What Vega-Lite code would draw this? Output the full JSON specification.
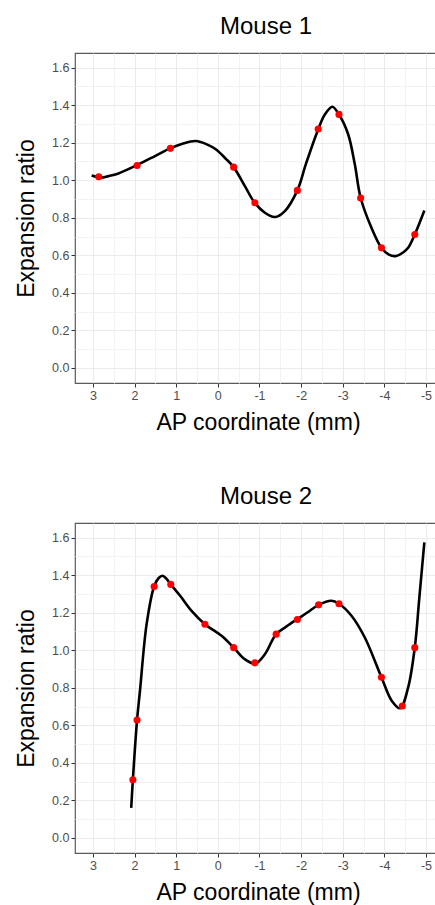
{
  "$schema": "https://vega.github.io/schema/vega-lite/v6.json",
  "background": "white",
  "padding": {"left": 15, "top": 14, "right": 0, "bottom": 0},
  "spacing": 48,
  "config": {
    "font": "Liberation Sans",
    "view": {"stroke": "#5a5a5a", "strokeWidth": 1.2},
    "axis": {
      "domain": false,
      "labelFont": "Liberation Sans",
      "labelFontSize": 12.5,
      "labelColor": "#4d4d4d",
      "labelOverlap": false,
      "labelPadding": 2,
      "tickSize": 4,
      "tickColor": "#333333",
      "titleFont": "Liberation Sans",
      "titleFontSize": 23,
      "titleFontWeight": "normal",
      "titleColor": "#000000"
    },
    "title": {"font": "Liberation Sans", "fontSize": 24, "fontWeight": "normal", "color": "#000000", "anchor": "middle", "baseline": "alphabetic", "offset": 14, "dx": 8}
  },
  "datasets": {
    "points": [
      {"mouse": "Mouse 1", "ap": 2.86, "ratio": 1.019},
      {"mouse": "Mouse 1", "ap": 1.94, "ratio": 1.079},
      {"mouse": "Mouse 1", "ap": 1.14, "ratio": 1.170},
      {"mouse": "Mouse 1", "ap": -0.38, "ratio": 1.070},
      {"mouse": "Mouse 1", "ap": -0.89, "ratio": 0.880},
      {"mouse": "Mouse 1", "ap": -1.91, "ratio": 0.946},
      {"mouse": "Mouse 1", "ap": -2.41, "ratio": 1.273},
      {"mouse": "Mouse 1", "ap": -2.91, "ratio": 1.351},
      {"mouse": "Mouse 1", "ap": -3.43, "ratio": 0.905},
      {"mouse": "Mouse 1", "ap": -3.93, "ratio": 0.640},
      {"mouse": "Mouse 1", "ap": -4.73, "ratio": 0.711},
      {"mouse": "Mouse 2", "ap": 2.04, "ratio": 0.310},
      {"mouse": "Mouse 2", "ap": 1.94, "ratio": 0.628},
      {"mouse": "Mouse 2", "ap": 1.53, "ratio": 1.340},
      {"mouse": "Mouse 2", "ap": 1.13, "ratio": 1.351},
      {"mouse": "Mouse 2", "ap": 0.31, "ratio": 1.139},
      {"mouse": "Mouse 2", "ap": -0.38, "ratio": 1.014},
      {"mouse": "Mouse 2", "ap": -0.89, "ratio": 0.933},
      {"mouse": "Mouse 2", "ap": -1.40, "ratio": 1.086},
      {"mouse": "Mouse 2", "ap": -1.91, "ratio": 1.164},
      {"mouse": "Mouse 2", "ap": -2.42, "ratio": 1.242},
      {"mouse": "Mouse 2", "ap": -2.91, "ratio": 1.248},
      {"mouse": "Mouse 2", "ap": -3.93, "ratio": 0.856},
      {"mouse": "Mouse 2", "ap": -4.43, "ratio": 0.703},
      {"mouse": "Mouse 2", "ap": -4.73, "ratio": 1.014}
    ],
    "curve": [
      {"mouse": "Mouse 1", "ap": 3.03, "ratio": 1.026},
      {"mouse": "Mouse 1", "ap": 2.80, "ratio": 1.015},
      {"mouse": "Mouse 1", "ap": 2.63, "ratio": 1.022},
      {"mouse": "Mouse 1", "ap": 2.40, "ratio": 1.035},
      {"mouse": "Mouse 1", "ap": 1.95, "ratio": 1.080},
      {"mouse": "Mouse 1", "ap": 1.51, "ratio": 1.129},
      {"mouse": "Mouse 1", "ap": 1.15, "ratio": 1.170},
      {"mouse": "Mouse 1", "ap": 0.85, "ratio": 1.195},
      {"mouse": "Mouse 1", "ap": 0.53, "ratio": 1.209},
      {"mouse": "Mouse 1", "ap": 0.25, "ratio": 1.190},
      {"mouse": "Mouse 1", "ap": 0.05, "ratio": 1.165},
      {"mouse": "Mouse 1", "ap": -0.20, "ratio": 1.113},
      {"mouse": "Mouse 1", "ap": -0.38, "ratio": 1.070},
      {"mouse": "Mouse 1", "ap": -0.65, "ratio": 0.969},
      {"mouse": "Mouse 1", "ap": -0.88, "ratio": 0.882},
      {"mouse": "Mouse 1", "ap": -1.13, "ratio": 0.827},
      {"mouse": "Mouse 1", "ap": -1.37, "ratio": 0.804},
      {"mouse": "Mouse 1", "ap": -1.61, "ratio": 0.836},
      {"mouse": "Mouse 1", "ap": -1.91, "ratio": 0.946},
      {"mouse": "Mouse 1", "ap": -2.12, "ratio": 1.090},
      {"mouse": "Mouse 1", "ap": -2.41, "ratio": 1.271},
      {"mouse": "Mouse 1", "ap": -2.57, "ratio": 1.350},
      {"mouse": "Mouse 1", "ap": -2.75, "ratio": 1.392},
      {"mouse": "Mouse 1", "ap": -2.91, "ratio": 1.350},
      {"mouse": "Mouse 1", "ap": -3.13, "ratio": 1.245},
      {"mouse": "Mouse 1", "ap": -3.29, "ratio": 1.085},
      {"mouse": "Mouse 1", "ap": -3.43, "ratio": 0.907},
      {"mouse": "Mouse 1", "ap": -3.69, "ratio": 0.747},
      {"mouse": "Mouse 1", "ap": -3.93, "ratio": 0.640},
      {"mouse": "Mouse 1", "ap": -4.10, "ratio": 0.605},
      {"mouse": "Mouse 1", "ap": -4.27, "ratio": 0.596},
      {"mouse": "Mouse 1", "ap": -4.45, "ratio": 0.615},
      {"mouse": "Mouse 1", "ap": -4.57, "ratio": 0.640},
      {"mouse": "Mouse 1", "ap": -4.73, "ratio": 0.711},
      {"mouse": "Mouse 1", "ap": -4.96, "ratio": 0.839},
      {"mouse": "Mouse 2", "ap": 2.08, "ratio": 0.160},
      {"mouse": "Mouse 2", "ap": 2.04, "ratio": 0.310},
      {"mouse": "Mouse 2", "ap": 1.94, "ratio": 0.628},
      {"mouse": "Mouse 2", "ap": 1.87, "ratio": 0.783},
      {"mouse": "Mouse 2", "ap": 1.71, "ratio": 1.139},
      {"mouse": "Mouse 2", "ap": 1.53, "ratio": 1.340},
      {"mouse": "Mouse 2", "ap": 1.42, "ratio": 1.385},
      {"mouse": "Mouse 2", "ap": 1.33, "ratio": 1.397},
      {"mouse": "Mouse 2", "ap": 1.23, "ratio": 1.380},
      {"mouse": "Mouse 2", "ap": 1.13, "ratio": 1.351},
      {"mouse": "Mouse 2", "ap": 0.90, "ratio": 1.289},
      {"mouse": "Mouse 2", "ap": 0.63, "ratio": 1.210},
      {"mouse": "Mouse 2", "ap": 0.31, "ratio": 1.139},
      {"mouse": "Mouse 2", "ap": -0.09, "ratio": 1.077},
      {"mouse": "Mouse 2", "ap": -0.38, "ratio": 1.014},
      {"mouse": "Mouse 2", "ap": -0.65, "ratio": 0.952},
      {"mouse": "Mouse 2", "ap": -0.90, "ratio": 0.929},
      {"mouse": "Mouse 2", "ap": -1.13, "ratio": 0.979},
      {"mouse": "Mouse 2", "ap": -1.40, "ratio": 1.086},
      {"mouse": "Mouse 2", "ap": -1.65, "ratio": 1.127},
      {"mouse": "Mouse 2", "ap": -1.91, "ratio": 1.166},
      {"mouse": "Mouse 2", "ap": -2.15, "ratio": 1.201},
      {"mouse": "Mouse 2", "ap": -2.42, "ratio": 1.242},
      {"mouse": "Mouse 2", "ap": -2.73, "ratio": 1.264},
      {"mouse": "Mouse 2", "ap": -2.91, "ratio": 1.248},
      {"mouse": "Mouse 2", "ap": -3.21, "ratio": 1.184},
      {"mouse": "Mouse 2", "ap": -3.53, "ratio": 1.068},
      {"mouse": "Mouse 2", "ap": -3.93, "ratio": 0.856},
      {"mouse": "Mouse 2", "ap": -4.18, "ratio": 0.730},
      {"mouse": "Mouse 2", "ap": -4.38, "ratio": 0.691},
      {"mouse": "Mouse 2", "ap": -4.57, "ratio": 0.801},
      {"mouse": "Mouse 2", "ap": -4.73, "ratio": 1.014},
      {"mouse": "Mouse 2", "ap": -4.84, "ratio": 1.281},
      {"mouse": "Mouse 2", "ap": -4.96, "ratio": 1.575}
    ]
  },
  "vconcat": [
    {
      "title": "Mouse 1",
      "width": 366,
      "height": 330,
      "encoding": {
        "x": {"field": "ap", "type": "quantitative",
          "scale": {"domain": [3.43, -5.36], "nice": false, "zero": false},
          "axis": {"title": "AP coordinate (mm)", "titlePadding": 10,
            "values": [3, 2.5, 2, 1.5, 1, 0.5, 0, -0.5, -1, -1.5, -2, -2.5, -3, -3.5, -4, -4.5, -5],
            "labelExpr": "datum.value % 1 === 0 ? '' + datum.value : ''",
            "gridColor": {"condition": {"test": "datum.value % 1 === 0", "value": "#ebebeb"}, "value": "#f3f3f3"},
            "tickOpacity": {"condition": {"test": "datum.value % 1 === 0", "value": 1}, "value": 0}}},
        "y": {"field": "ratio", "type": "quantitative",
          "scale": {"domain": [-0.08, 1.678], "nice": false, "zero": false},
          "axis": {"title": "Expansion ratio", "titlePadding": 13,
            "values": [0, 0.1, 0.2, 0.3, 0.4, 0.5, 0.6, 0.7, 0.8, 0.9, 1.0, 1.1, 1.2, 1.3, 1.4, 1.5, 1.6],
            "labelExpr": "round(datum.value * 10) % 2 === 0 ? format(datum.value, '.1f') : ''",
            "gridColor": {"condition": {"test": "round(datum.value * 10) % 2 === 0", "value": "#ebebeb"}, "value": "#f3f3f3"},
            "tickOpacity": {"condition": {"test": "round(datum.value * 10) % 2 === 0", "value": 1}, "value": 0}}}
      },
      "layer": [
        {"data": {"name": "curve"}, "transform": [{"filter": "datum.mouse === 'Mouse 1'"}],
         "mark": {"type": "line", "color": "#000000", "strokeWidth": 2.6, "interpolate": "catmull-rom"}},
        {"data": {"name": "points"}, "transform": [{"filter": "datum.mouse === 'Mouse 1'"}],
         "mark": {"type": "point", "filled": true, "color": "#ff0000", "opacity": 1, "size": 50}}
      ]
    },
    {
      "title": "Mouse 2",
      "width": 366,
      "height": 330,
      "encoding": {
        "x": {"field": "ap", "type": "quantitative",
          "scale": {"domain": [3.43, -5.36], "nice": false, "zero": false},
          "axis": {"title": "AP coordinate (mm)", "titlePadding": 10,
            "values": [3, 2.5, 2, 1.5, 1, 0.5, 0, -0.5, -1, -1.5, -2, -2.5, -3, -3.5, -4, -4.5, -5],
            "labelExpr": "datum.value % 1 === 0 ? '' + datum.value : ''",
            "gridColor": {"condition": {"test": "datum.value % 1 === 0", "value": "#ebebeb"}, "value": "#f3f3f3"},
            "tickOpacity": {"condition": {"test": "datum.value % 1 === 0", "value": 1}, "value": 0}}},
        "y": {"field": "ratio", "type": "quantitative",
          "scale": {"domain": [-0.08, 1.678], "nice": false, "zero": false},
          "axis": {"title": "Expansion ratio", "titlePadding": 13,
            "values": [0, 0.1, 0.2, 0.3, 0.4, 0.5, 0.6, 0.7, 0.8, 0.9, 1.0, 1.1, 1.2, 1.3, 1.4, 1.5, 1.6],
            "labelExpr": "round(datum.value * 10) % 2 === 0 ? format(datum.value, '.1f') : ''",
            "gridColor": {"condition": {"test": "round(datum.value * 10) % 2 === 0", "value": "#ebebeb"}, "value": "#f3f3f3"},
            "tickOpacity": {"condition": {"test": "round(datum.value * 10) % 2 === 0", "value": 1}, "value": 0}}}
      },
      "layer": [
        {"data": {"name": "curve"}, "transform": [{"filter": "datum.mouse === 'Mouse 2'"}],
         "mark": {"type": "line", "color": "#000000", "strokeWidth": 2.6, "interpolate": "catmull-rom"}},
        {"data": {"name": "points"}, "transform": [{"filter": "datum.mouse === 'Mouse 2'"}],
         "mark": {"type": "point", "filled": true, "color": "#ff0000", "opacity": 1, "size": 50}}
      ]
    }
  ]
}
